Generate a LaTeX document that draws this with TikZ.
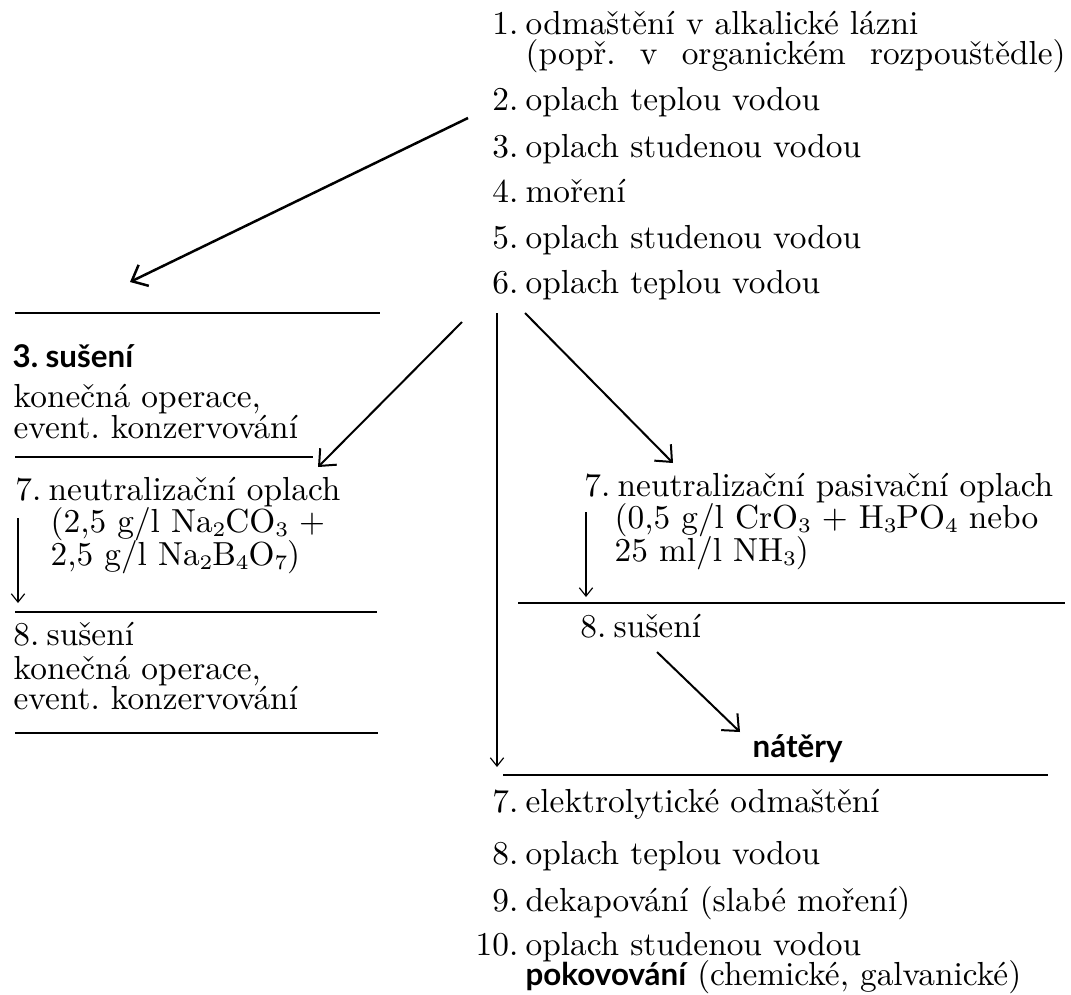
\documentclass[tikz,border=0pt]{standalone}
\usepackage{fontspec}
\newfontfamily\tucne{Lato}
\usetikzlibrary{arrows.meta}
\newcommand{\krok}[2]{\llap{#1\hspace{2.2pt}}#2}
\newcommand{\ind}[1]{\raisebox{-0.3ex}{\fontsize{6.2}{6.2}\selectfont #1}}

\begin{document}
\begin{tikzpicture}[x=0.3pt,y=-0.3pt,>={Straight Barb[length=4pt,width=7pt]},
radek/.style={anchor=base west,inner sep=0pt,font=\fontsize{10}{8.4}\selectfont},
nadpis/.style={radek,font=\tucne\bfseries\fontsize{9.4}{8.4}\selectfont},
cara/.style={line width=0.6pt},
sipka/.style={->,line width=0.75pt},
tenka/.style={-{Straight Barb[length=2.5pt,width=4pt]},line width=0.35pt}]
\useasboundingbox (0,0) rectangle (1071,994);
\node[radek] (t1) at (525,34) {\krok{1.}{odmaštění v alkalické lázni}};
\node[radek] (t1b) at (525,64) {\makebox[162pt][s]{(popř.\ v organickém rozpouštědle)}};
\node[radek] (t2) at (525,110) {\krok{2.}{oplach teplou vodou}};
\node[radek] (t3) at (525,157) {\krok{3.}{oplach studenou vodou}};
\node[radek] (t4) at (525,202) {\krok{4.}{moření}};
\node[radek] (t5) at (525,248) {\krok{5.}{oplach studenou vodou}};
\node[radek] (t6) at (525,293) {\krok{6.}{oplach teplou vodou}};

\node[nadpis] (s3) at (45,367) {\krok{3.}{sušení}};
\node[radek] (k1) at (13,407) {konečná operace,};
\node[radek] (k1b) at (13,438) {event.\ konzervování};
\node[radek] (l7) at (48,500) {\krok{7.}{neutralizační oplach}};
\node[radek] (l7b) at (50,532) {(2,5 g/l Na\ind{2}CO\ind{3} $+$};
\node[radek] (l7c) at (50,565) {2,5 g/l Na\ind{2}B\ind{4}O\ind{7})};
\node[radek] (l8) at (46,645) {\krok{8.}{sušení}};
\node[radek] (k2) at (13,679) {konečná operace,};
\node[radek] (k2b) at (13,709) {event.\ konzervování};

\node[radek] (p7) at (617,496) {\krok{7.}{neutralizační pasivační oplach}};
\node[radek] (p7b) at (614,528) {(0,5 g/l CrO\ind{3} $+$ H\ind{3}PO\ind{4} nebo};
\node[radek] (p7c) at (614,561) {25 ml/l NH\ind{3})};
\node[radek] (p8) at (613,637) {\krok{8.}{sušení}};
\node[nadpis] (natery) at (752,757) {nátěry};

\node[radek] (b7) at (525,812) {\krok{7.}{elektrolytické odmaštění}};
\node[radek] (b8) at (525,864) {\krok{8.}{oplach teplou vodou}};
\node[radek] (b9) at (525,911) {\krok{9.}{dekapování (slabé moření)}};
\node[radek] (b10) at (525,955) {\krok{10.}{oplach studenou vodou}};
\node[radek] (b10b) at (525,985) {{\tucne\bfseries\fontsize{9.4}{8.4}\selectfont pokovování} (chemické, galvanické)};

\coordinate (z2) at (468,118);
\coordinate (do3) at (130,282);
\coordinate (z6a) at (462,322);
\coordinate (do7a) at (318,467);
\coordinate (z6b) at (525,313);
\coordinate (do7b) at (673,463);
\coordinate (z6c) at (497,313);
\coordinate (do7c) at (497,767);
\coordinate (z8) at (657,652);
\coordinate (do9) at (740,732);
\coordinate (l7dol) at (18,603);
\coordinate (p7dol) at (586,597);

\draw[cara] (15,313) -- (380,313);
\draw[cara] (15,457) -- (313,457);
\draw[cara] (15,612) -- (377,612);
\draw[cara] (15,733) -- (378,733);
\draw[cara] (518,603) -- (1065,603);
\draw[cara] (503,775) -- (1048,775);

\draw[sipka] (z2) -- (do3);
\draw[sipka,line width=0.6pt] (z6a) -- (do7a);
\draw[sipka,line width=0.6pt] (z6b) -- (do7b);
\draw[tenka] (z6c) -- (do7c);
\draw[tenka] (18,518) -- (l7dol);
\draw[tenka] (586,512) -- (p7dol);
\draw[sipka,line width=0.6pt] (z8) -- (do9);
\end{tikzpicture}
\end{document}
